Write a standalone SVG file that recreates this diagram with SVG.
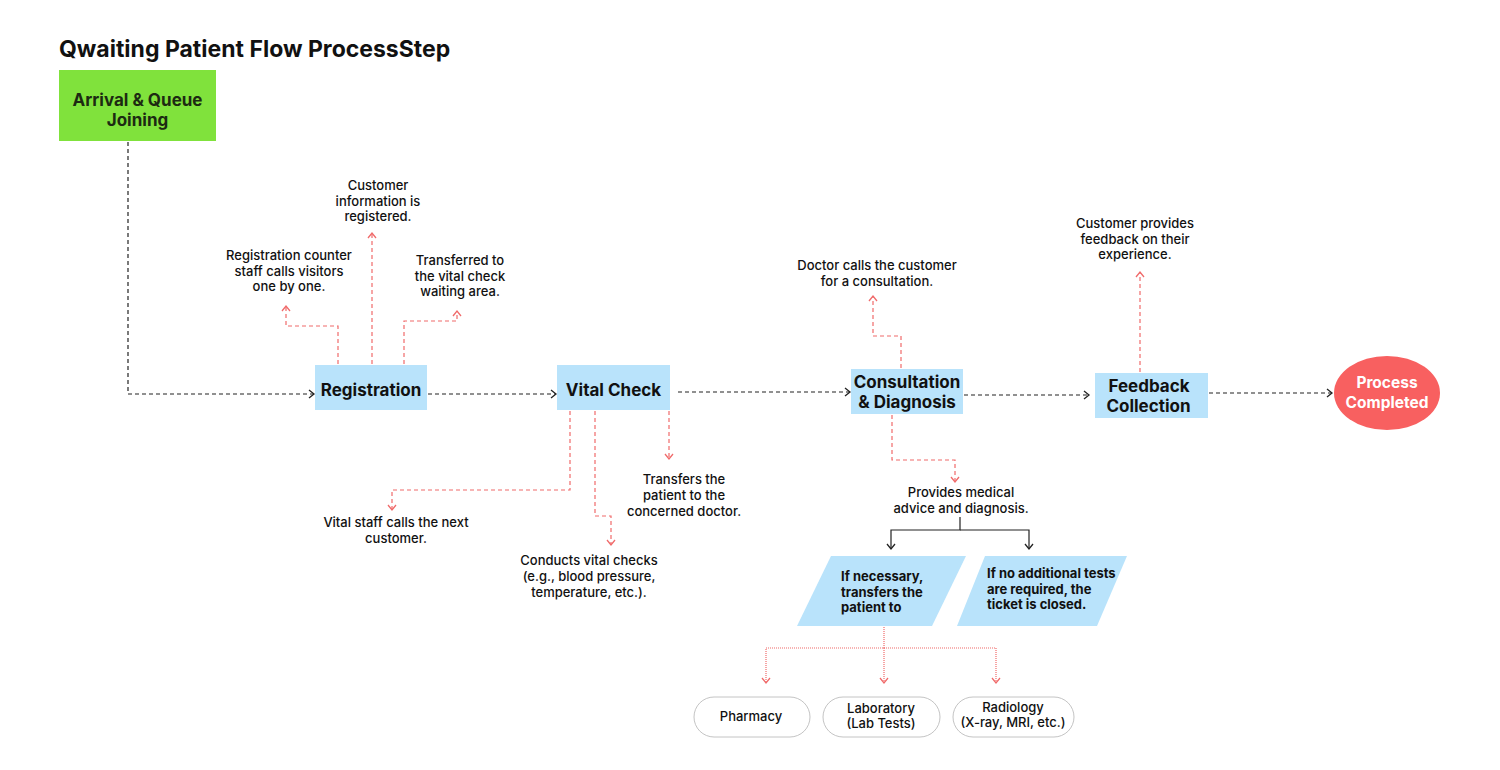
<svg xmlns="http://www.w3.org/2000/svg" width="1500" height="770" viewBox="0 0 1500 770">
<defs>
<style>
.title{font-family:Inter,"Liberation Sans",sans-serif;font-weight:700;font-size:23px;fill:#111}
.node{fill:#b9e3fb}
.nl{font-family:Inter,"Liberation Sans",sans-serif;font-weight:700;font-size:17px;fill:#111;text-anchor:middle}
.ann{font-family:Inter,"Liberation Sans",sans-serif;font-weight:500;font-size:13px;fill:#111;text-anchor:middle}
.pl{font-family:Inter,"Liberation Sans",sans-serif;font-weight:700;font-size:13px;fill:#111}
.pill{fill:#fff;stroke:#c4c4c4;stroke-width:1}
.pt{font-family:Inter,"Liberation Sans",sans-serif;font-weight:500;font-size:13px;fill:#111;text-anchor:middle}
.blk{fill:none;stroke:#222;stroke-width:1.2;stroke-dasharray:4 3;marker-end:url(#ab)}
.red{fill:none;stroke:#f06a6a;stroke-width:1.2;stroke-dasharray:4 3;marker-end:url(#ar)}
.dot{fill:none;stroke:#f06a6a;stroke-width:1.2;stroke-dasharray:1 1;marker-end:url(#ar)}
.sol{fill:none;stroke:#222;stroke-width:1.2;marker-end:url(#ab)}
</style>
<marker id="ab" markerUnits="userSpaceOnUse" markerWidth="10" markerHeight="10" refX="6" refY="5" orient="auto"><path d="M1,1 L6,5 L1,9" fill="none" stroke="#222" stroke-width="1.3"/></marker>
<marker id="ar" markerUnits="userSpaceOnUse" markerWidth="10" markerHeight="10" refX="6" refY="5" orient="auto"><path d="M1,1 L6,5 L1,9" fill="none" stroke="#f06a6a" stroke-width="1.3"/></marker>
</defs>
<rect width="1500" height="770" fill="#fff"/>
<text class="title" x="59" y="57">Qwaiting Patient Flow ProcessStep</text>

<g id="connectors">
<path class="blk" d="M128,142 V394 H314"/>
<path class="blk" d="M428,394 H556"/>
<path class="blk" d="M678,392 H850"/>
<path class="blk" d="M964,395 H1089"/>
<path class="blk" d="M1209,393 H1332"/>
<path class="red" d="M338,364 V326 H286 V306"/>
<path class="red" d="M372,364 V233"/>
<path class="red" d="M404,364 V321 H457 V311"/>
<path class="red" d="M570,411 V490 H392 V510"/>
<path class="red" d="M595,411 V516 H611 V545"/>
<path class="red" d="M669,411 V459"/>
<path class="red" d="M901,368 V336 H873 V296"/>
<path class="red" d="M892,415 V460 H955 V482"/>
<path class="red" d="M1140,372 V272"/>
<path class="sol" d="M960,517 V530 H891 V549"/>
<path class="sol" d="M960,530 H1029 V549"/>
<path class="dot" d="M884,627 V648 H766 V683"/>
<path class="dot" d="M884,648 V683"/>
<path class="dot" d="M884,648 H996 V683"/>
</g>

<g id="arrival">
<rect x="59" y="70" width="157" height="71" fill="#80e23c"/>
<text class="nl" x="137.500" y="106" style="fill:#1d2a12">Arrival &amp; Queue</text>
<text class="nl" x="137.500" y="126" style="fill:#1d2a12">Joining</text>
</g>
<g id="registration">
<rect class="node" x="315" y="365" width="112" height="45"/>
<text class="nl" x="371" y="396">Registration</text>
</g>
<g id="vital-check">
<rect class="node" x="557" y="365" width="113" height="45"/>
<text class="nl" x="613.500" y="396">Vital Check</text>
</g>
<g id="consultation">
<rect class="node" x="851" y="369" width="112" height="45"/>
<text class="nl" x="907" y="388">Consultation</text>
<text class="nl" x="907" y="408">&amp; Diagnosis</text>
</g>
<g id="feedback">
<rect class="node" x="1095" y="373" width="113" height="45"/>
<text class="nl" x="1149" y="392">Feedback</text>
<text class="nl" x="1148.500" y="412">Collection</text>
</g>
<g id="completed">
<ellipse cx="1387" cy="393" rx="53" ry="37" fill="#f86060"/>
<text class="nl" x="1387" y="388" style="fill:#fff;font-size:15.500px">Process</text>
<text class="nl" x="1387" y="408" style="fill:#fff;font-size:15.500px">Completed</text>
</g>

<g id="ann-registration">
<text class="ann" x="289" y="260">Registration counter</text>
<text class="ann" x="289" y="275.500">staff calls visitors</text>
<text class="ann" x="289" y="291">one by one.</text>
<text class="ann" x="378" y="190">Customer</text>
<text class="ann" x="378" y="205.500">information is</text>
<text class="ann" x="378" y="221">registered.</text>
<text class="ann" x="460" y="265">Transferred to</text>
<text class="ann" x="460" y="280.500">the vital check</text>
<text class="ann" x="460" y="296">waiting area.</text>
</g>
<g id="ann-vital">
<text class="ann" x="396" y="527">Vital staff calls the next</text>
<text class="ann" x="396" y="543">customer.</text>
<text class="ann" x="589" y="565">Conducts vital checks</text>
<text class="ann" x="589" y="581">(e.g., blood pressure,</text>
<text class="ann" x="589" y="597">temperature, etc.).</text>
<text class="ann" x="684" y="484">Transfers the</text>
<text class="ann" x="684" y="500">patient to the</text>
<text class="ann" x="684" y="516">concerned doctor.</text>
</g>
<g id="ann-consultation">
<text class="ann" x="877" y="270">Doctor calls the customer</text>
<text class="ann" x="877" y="285.500">for a consultation.</text>
<text class="ann" x="961" y="497">Provides medical</text>
<text class="ann" x="961" y="513">advice and diagnosis.</text>
</g>
<g id="ann-feedback">
<text class="ann" x="1135" y="228">Customer provides</text>
<text class="ann" x="1135" y="243.500">feedback on their</text>
<text class="ann" x="1135" y="259">experience.</text>
</g>

<g id="transfer">
<polygon points="831,556 966,556 932,626 797,626" fill="#b9e3fb"/>
<text class="pl" x="841" y="581">If necessary,</text>
<text class="pl" x="841" y="596.500">transfers the</text>
<text class="pl" x="841" y="612">patient to</text>
</g>
<g id="closed">
<polygon points="985,556 1127,556 1097,626 957,626" fill="#b9e3fb"/>
<text class="pl" x="987" y="578">If no additional tests</text>
<text class="pl" x="987" y="593.500">are required, the</text>
<text class="pl" x="987" y="609">ticket is closed.</text>
</g>

<g id="pharmacy">
<rect class="pill" x="694" y="697" width="116" height="40" rx="20"/>
<text class="pt" x="751" y="721">Pharmacy</text>
</g>
<g id="laboratory">
<rect class="pill" x="823" y="697" width="117" height="40" rx="20"/>
<text class="pt" x="881" y="713">Laboratory</text>
<text class="pt" x="881" y="728">(Lab Tests)</text>
</g>
<g id="radiology">
<rect class="pill" x="953" y="697" width="121" height="40" rx="20"/>
<text class="pt" x="1013" y="712">Radiology</text>
<text class="pt" x="1013" y="727">(X-ray, MRI, etc.)</text>
</g>
</svg>
